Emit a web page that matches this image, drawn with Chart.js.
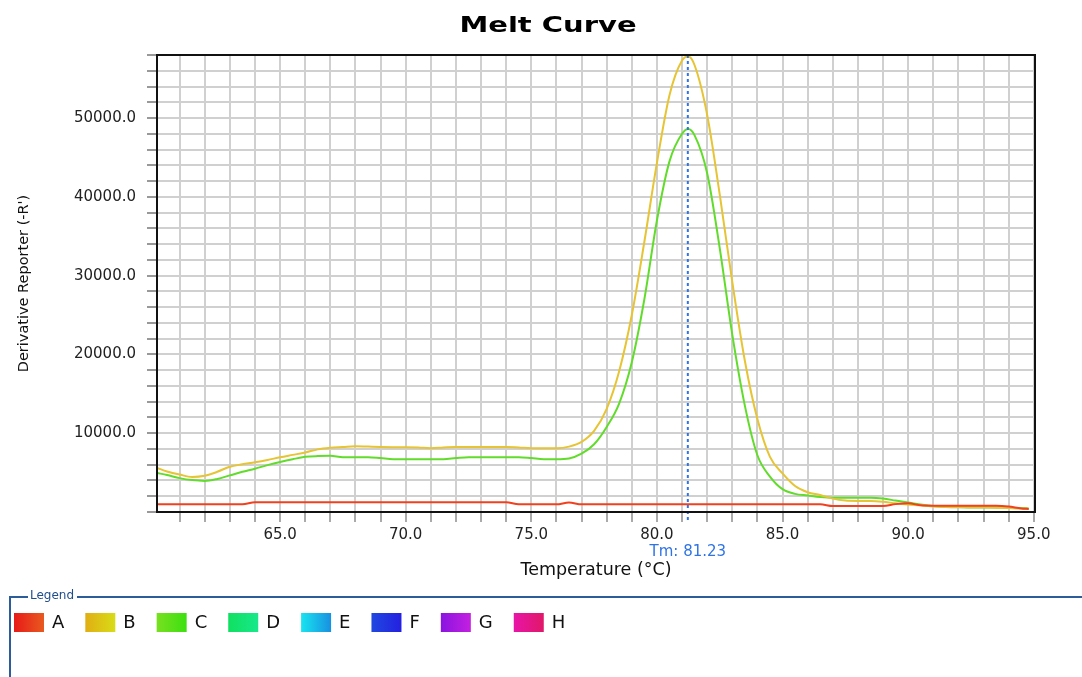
<!DOCTYPE html>
<html>
<head>
<meta charset="utf-8">
<title>Melt Curve</title>
<script src="https://cdn.jsdelivr.net/npm/chart.js@4.4.0/dist/chart.umd.min.js"></script>
<style>
body { margin: 0; background: #fff; }
</style>
</head>
<body>
<canvas id="melt_chart" width="1082" height="677"></canvas>
<script>
// temperatures (°C) shared by every well
const temps = [60.1, 60.5, 61, 61.5, 62, 62.5, 63, 63.5, 64, 64.5,
    65, 65.5, 66, 66.5, 67, 67.5, 68, 68.5, 69, 69.5,
    70, 70.5, 71, 71.5, 72, 72.5, 73, 73.5, 74, 74.5,
    75, 75.5, 76, 76.5, 77, 77.5, 78, 78.5, 79, 79.5,
    80, 80.5, 81, 81.25, 81.5, 82, 82.5, 83, 83.5, 84,
    84.5, 85, 85.5, 86, 86.5, 87, 87.5, 88, 88.5, 89,
    89.5, 90, 90.5, 91, 91.5, 92, 92.5, 93, 93.5, 94,
    94.5, 94.8];

// derivative reporter (-R') per well
const well_a = [970, 970, 970, 970, 970, 970, 970, 970, 1230, 1230,
    1230, 1230, 1230, 1230, 1230, 1230, 1230, 1230, 1230, 1230,
    1230, 1230, 1230, 1230, 1230, 1230, 1230, 1230, 1230, 970,
    970, 970, 970, 1200, 970, 970, 970, 970, 970, 970,
    970, 970, 970, 970, 970, 970, 970, 970, 970, 970,
    970, 970, 970, 970, 970, 760, 760, 760, 760, 760,
    1000, 1100, 850, 800, 800, 800, 800, 800, 800, 700,
    450, 380];

const well_b = [5600, 5150, 4750, 4450, 4600, 5100, 5750, 6050, 6300, 6600,
    6950, 7250, 7550, 7950, 8150, 8250, 8350, 8300, 8250, 8230,
    8230, 8200, 8100, 8200, 8250, 8250, 8250, 8250, 8250, 8200,
    8100, 8100, 8100, 8300, 8900, 10300, 13100, 17900, 25000, 34300,
    44300, 52900, 57300, 57800, 56700, 50400, 40300, 29200, 19200, 11800,
    7000, 4900, 3300, 2500, 2150, 1700, 1450, 1400, 1400, 1300,
    1100, 950, 850, 700, 650, 650, 600, 600, 550, 500,
    450, 400];

const well_c = [4950, 4700, 4300, 4050, 3950, 4200, 4650, 5100, 5500, 5950,
    6350, 6700, 7000, 7100, 7130, 6960, 6960, 6960, 6850, 6710,
    6710, 6710, 6710, 6710, 6850, 6960, 6960, 6960, 6960, 6960,
    6850, 6710, 6710, 6800, 7400, 8600, 10800, 13800, 19000, 27000,
    37000, 44500, 48000, 48600, 47800, 43000, 33500, 22500, 13500, 7200,
    4500, 2900, 2300, 2100, 1900, 1800, 1800, 1800, 1800, 1700,
    1450, 1200, 950, 750, 650, 600, 580, 560, 560, 550,
    500, 450];

const tm_value = 81.23;

// legend wells and swatch colours
const wells = ['A', 'B', 'C', 'D', 'E', 'F', 'G', 'H'];
const swatch_from = ['#e81a18', '#e0ae12', '#78e020', '#10e060', '#18e4f0', '#2048e0', '#8a14e0', '#e814a8'];
const swatch_to = ['#e85a20', '#d8dc18', '#3ce010', '#18e88a', '#1890e0', '#2420e0', '#c420e0', '#e01868'];
const line_colors = ['#f0401e', '#e6c434', '#62dc2a'];

const font_family = "'DejaVu Sans'";

function toPoints(values) {
    return values.map((v, i) => ({ x: temps[i], y: v }));
}

function yLabel(v) {
    const n = Math.round(v);
    return (n > 0 && n % 10000 === 0) ? n.toFixed(1) : '';
}

const melt_extras = {
    id: 'melt_extras',
    afterDatasetsDraw(chart) {
        const { ctx, chartArea: a, scales: { x } } = chart;
        const tx = x.getPixelForValue(tm_value);
        ctx.save();
        // Tm marker
        ctx.strokeStyle = '#2f74e6';
        ctx.lineWidth = 2;
        ctx.setLineDash([3, 3]);
        ctx.beginPath();
        ctx.moveTo(tx, a.top);
        ctx.lineTo(tx, a.bottom + 10);
        ctx.stroke();
        ctx.setLineDash([]);
        // plot frame
        ctx.strokeStyle = '#111';
        ctx.lineWidth = 2;
        ctx.strokeRect(a.left, a.top, a.right - a.left, a.bottom - a.top);
        ctx.fillStyle = '#2f74e6';
        ctx.font = '15px ' + font_family;
        ctx.textAlign = 'center';
        ctx.textBaseline = 'middle';
        ctx.fillText('Tm: ' + tm_value.toFixed(2), tx, a.bottom + 40);
        ctx.restore();
    },
    afterDraw(chart) {
        const ctx = chart.ctx;
        ctx.save();
        // title, drawn wide and heavy like the instrument software
        ctx.fillStyle = '#000';
        ctx.font = 'bold 21px ' + font_family;
        ctx.textAlign = 'center';
        ctx.textBaseline = 'alphabetic';
        ctx.save();
        ctx.translate(548, 32);
        ctx.scale(1.38, 1);
        ctx.fillText('Melt Curve', 0, 0);
        ctx.restore();

        // legend frame
        ctx.strokeStyle = '#2c5c9a';
        ctx.lineWidth = 2;
        ctx.beginPath();
        ctx.moveTo(28, 597);
        ctx.lineTo(10, 597);
        ctx.lineTo(10, 677);
        ctx.stroke();
        ctx.beginPath();
        ctx.moveTo(77, 597);
        ctx.lineTo(1082, 597);
        ctx.stroke();
        ctx.font = '12px ' + font_family;
        ctx.fillStyle = '#1f4e8c';
        ctx.textAlign = 'left';
        ctx.textBaseline = 'middle';
        ctx.fillText('Legend', 30, 596);

        ctx.font = '18px ' + font_family;
        let lx = 14;
        wells.forEach((w, i) => {
            const g = ctx.createLinearGradient(lx, 0, lx + 30, 0);
            g.addColorStop(0, swatch_from[i]);
            g.addColorStop(1, swatch_to[i]);
            ctx.fillStyle = g;
            ctx.fillRect(lx, 613, 30, 19);
            ctx.fillStyle = '#111';
            ctx.fillText(w, lx + 38, 623);
            lx += 38 + ctx.measureText(w).width + 21;
        });
        ctx.restore();
    }
};

const ctx = document.getElementById('melt_chart').getContext('2d');

new Chart(ctx, {
    type: 'line',
    data: {
        datasets: [well_a, well_b, well_c].map((vals, i) => ({
            label: wells[i],
            data: toPoints(vals),
            borderColor: line_colors[i],
            backgroundColor: line_colors[i],
            borderWidth: 2,
            pointRadius: 0,
            fill: false,
            cubicInterpolationMode: 'monotone'
        }))
    },
    options: {
        responsive: false,
        animation: false,
        layout: { padding: { left: 0, right: 47, top: 55, bottom: 85 } },
        plugins: {
            legend: { display: false },
            tooltip: { enabled: false },
            title: { display: false }
        },
        scales: {
            x: {
                type: 'linear',
                min: 60.1,
                max: 95.05,
                afterFit(scale) { scale.height = 80; },
                border: { display: false },
                grid: { color: '#d0d0d0', lineWidth: 2, tickLength: 10, tickColor: '#aaa' },
                ticks: {
                    stepSize: 1,
                    includeBounds: false,
                    autoSkip: false,
                    maxRotation: 0,
                    padding: 4,
                    color: '#222',
                    font: { family: font_family, size: 15 },
                    callback: v => (Math.abs(v % 5) < 1e-6 ? v.toFixed(1) : '')
                },
                title: {
                    display: true,
                    text: 'Temperature (°C)',
                    color: '#111',
                    font: { family: font_family, size: 17.5 },
                    padding: { top: 0, bottom: 11 }
                }
            },
            y: {
                type: 'linear',
                min: 0,
                max: 58000,
                afterFit(scale) { scale.width = 157; },
                border: { display: false },
                grid: { color: '#d0d0d0', lineWidth: 2, tickLength: 10, tickColor: '#999' },
                ticks: {
                    stepSize: 2000,
                    includeBounds: false,
                    autoSkip: false,
                    padding: 11,
                    color: '#222',
                    font: { family: font_family, size: 15 },
                    callback: yLabel
                },
                title: {
                    display: true,
                    text: "Derivative Reporter (-R')",
                    color: '#111',
                    font: { family: font_family, size: 14.5 },
                    padding: { top: 16, bottom: 0 }
                }
            }
        }
    },
    plugins: [melt_extras]
});
</script>
</body>
</html>
